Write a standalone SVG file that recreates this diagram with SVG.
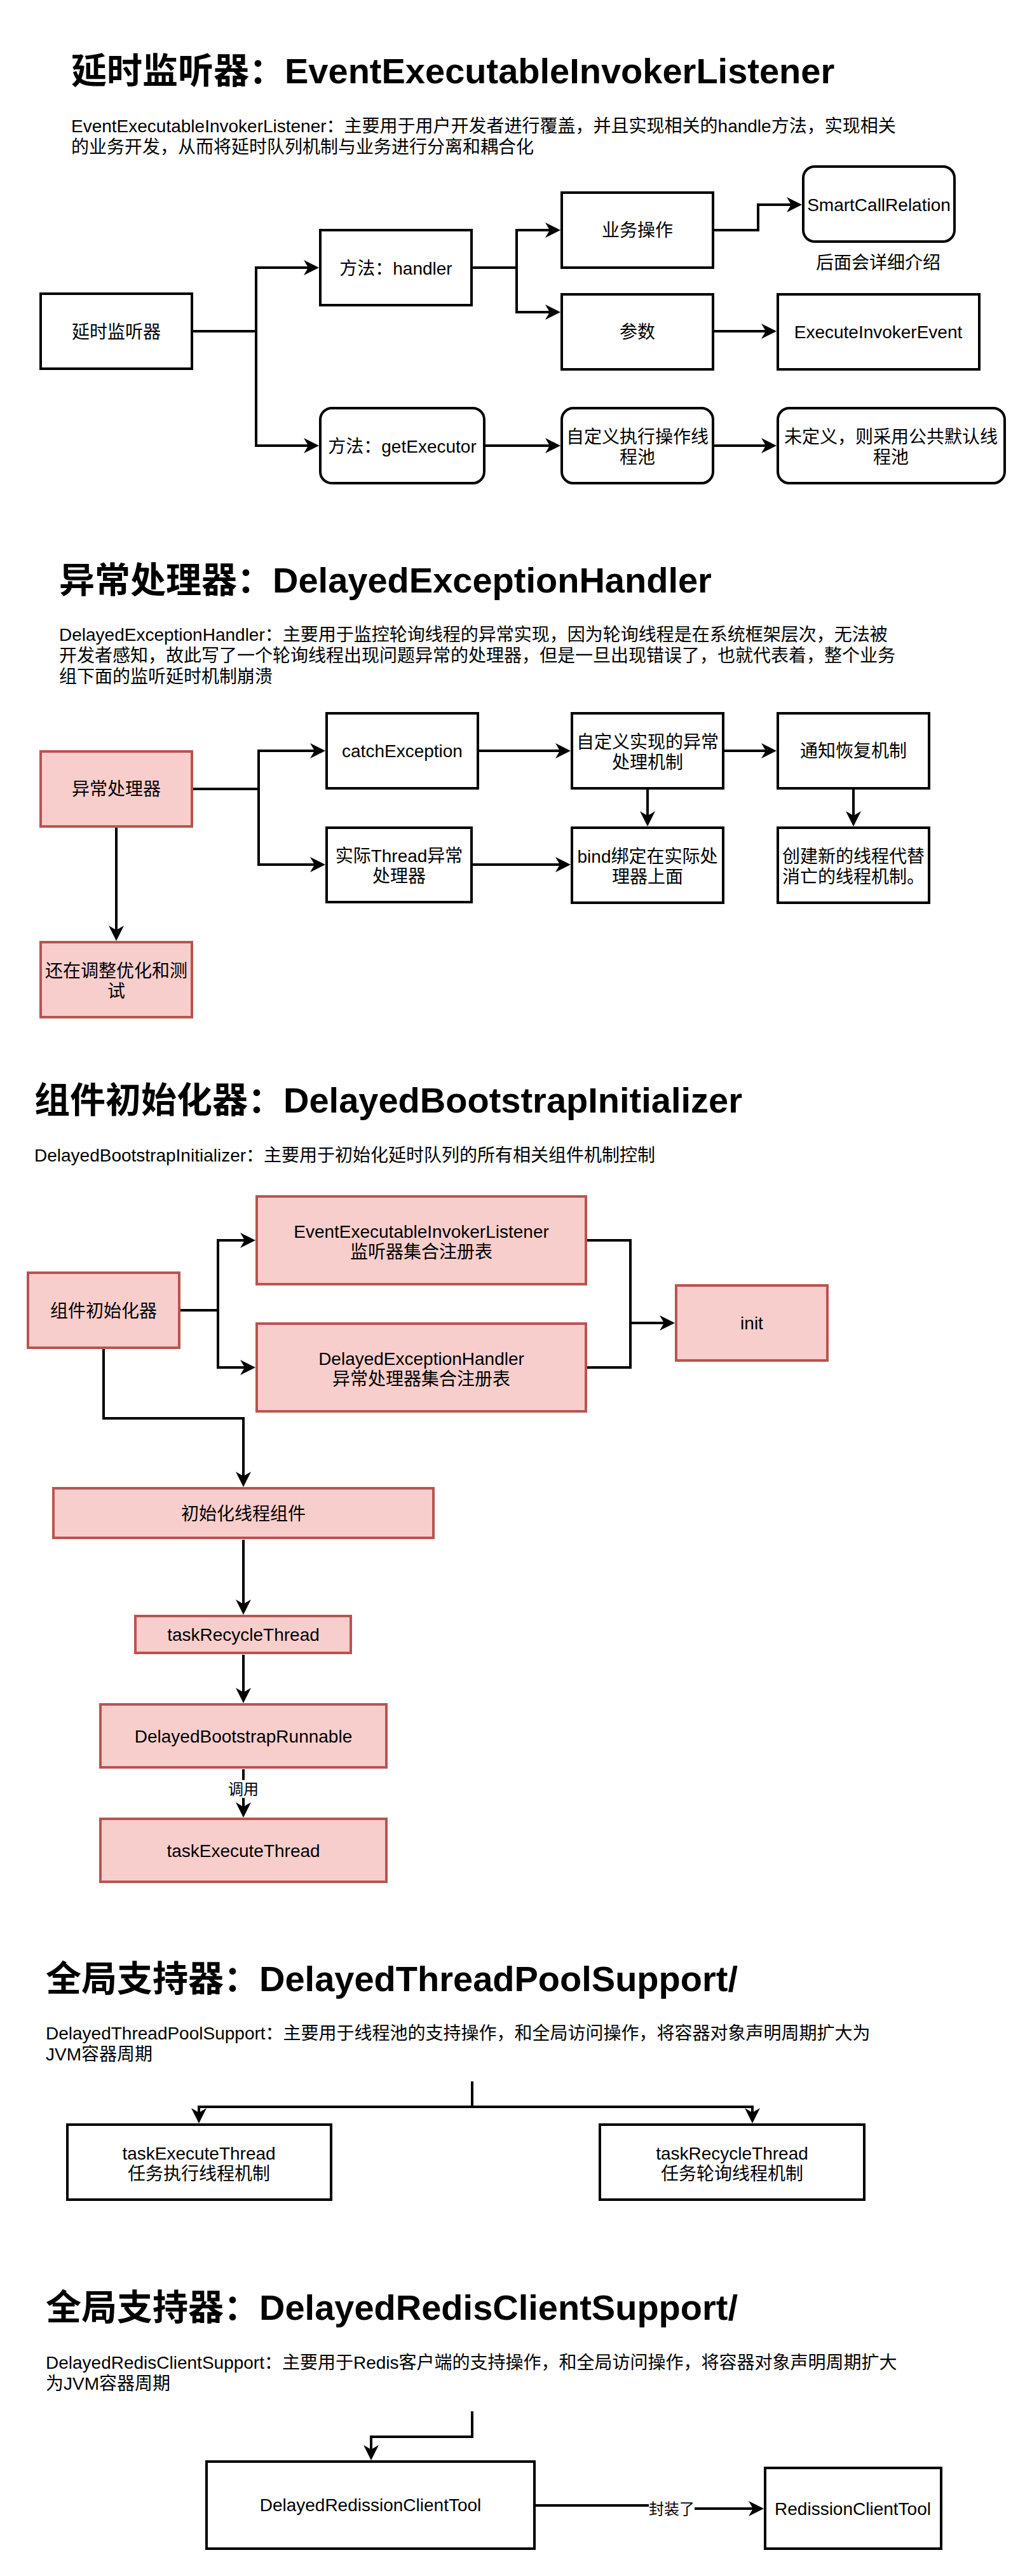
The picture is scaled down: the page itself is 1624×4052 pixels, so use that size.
<svg xmlns="http://www.w3.org/2000/svg" width="1624" height="4052" viewBox="0 0 1624 4052">
<style>
.n{fill:#fff;stroke:#000;stroke-width:4}
.r{fill:#f8cecc;stroke:#b85450;stroke-width:4}
.e{fill:none;stroke:#000;stroke-width:4}
text{font-family:"Liberation Sans","Noto Sans CJK SC",sans-serif;fill:#000}
.t{font-size:28px;text-anchor:middle}
.h{font-size:56px;font-weight:bold}
.d{font-size:28px}
.l{font-size:24px;text-anchor:middle}
</style>
<defs>
<marker id="a" viewBox="0 0 24 24" refX="16" refY="12" markerWidth="24" markerHeight="24" markerUnits="userSpaceOnUse" orient="auto"><path d="M0,0 L24,12 L0,24 L7,12 Z" fill="#000"/></marker>
</defs>
<rect width="1624" height="4052" fill="#fff"/>

<!-- Section 1 -->
<text class="h" x="112" y="131">延时监听器：EventExecutableInvokerListener</text>
<text class="d" x="112" y="208">EventExecutableInvokerListener：主要用于用户开发者进行覆盖，并且实现相关的handle方法，实现相关</text>
<text class="d" x="112" y="241">的业务开发，从而将延时队列机制与业务进行分离和耦合化</text>

<g id="connectors">
<path class="e" marker-end="url(#a)" d="M304,521 H403 V421 H494"/>
<path class="e" marker-end="url(#a)" d="M304,521 H403 V701 H494"/>
<path class="e" marker-end="url(#a)" d="M744,421 H813 V362 H874"/>
<path class="e" marker-end="url(#a)" d="M744,421 H813 V491 H874"/>
<path class="e" marker-end="url(#a)" d="M1124,362 H1193 V322 H1254"/>
<path class="e" marker-end="url(#a)" d="M1124,521 H1214"/>
<path class="e" marker-end="url(#a)" d="M764,701 H874"/>
<path class="e" marker-end="url(#a)" d="M1124,701 H1214"/>

<path class="e" marker-end="url(#a)" d="M304,1241 H407 V1181 H504"/>
<path class="e" marker-end="url(#a)" d="M304,1241 H407 V1360 H504"/>
<path class="e" marker-end="url(#a)" d="M754,1181 H890"/>
<path class="e" marker-end="url(#a)" d="M1140,1181 H1214"/>
<path class="e" marker-end="url(#a)" d="M1019,1242 V1292"/>
<path class="e" marker-end="url(#a)" d="M1343,1242 V1292"/>
<path class="e" marker-end="url(#a)" d="M744,1360 H890"/>
<path class="e" marker-end="url(#a)" d="M183,1302 V1472"/>

<path class="e" marker-end="url(#a)" d="M284,2061 H343 V1951 H394"/>
<path class="e" marker-end="url(#a)" d="M284,2061 H343 V2151 H394"/>
<path class="e" marker-end="url(#a)" d="M923,1951 H992 V2081 H1054"/>
<path class="e" d="M923,2151 H992 V2081"/>
<path class="e" marker-end="url(#a)" d="M163,2122 V2231 H383 V2331"/>
<path class="e" marker-end="url(#a)" d="M383,2422 V2532"/>
<path class="e" marker-end="url(#a)" d="M383,2603 V2671"/>
<path class="e" marker-end="url(#a)" d="M383,2783 V2851"/>
<rect x="359" y="2800" width="48" height="28" fill="#fff"/>
<text class="l" x="383" y="2823">调用</text>

<path class="e" marker-end="url(#a)" d="M743,3274 V3314 H313 V3332"/>
<path class="e" marker-end="url(#a)" d="M743,3314 H1184 V3332"/>

<path class="e" marker-end="url(#a)" d="M743,3793 V3833 H584 V3862"/>
<path class="e" marker-end="url(#a)" d="M843,3941 H1057 V3946 H1194"/>
<rect x="1021" y="3932" width="72" height="30" fill="#fff"/>
<text class="l" x="1057" y="3955">封装了</text>
</g>

<g id="n1"><rect class="n" x="64" y="462" width="238" height="118"/><text class="t" x="183" y="532">延时监听器</text></g>
<g id="n2"><rect class="n" x="504" y="362" width="238" height="118"/><text class="t" x="623" y="432">方法：handler</text></g>
<g id="n3"><rect class="n" x="884" y="303" width="238" height="118"/><text class="t" x="1003" y="372">业务操作</text></g>
<g id="n4"><rect class="n" x="1264" y="262" width="238" height="118" rx="18"/><text class="t" x="1383" y="332">SmartCallRelation</text></g>
<g id="n4l"><text class="t" x="1382" y="423">后面会详细介绍</text></g>
<g id="n5"><rect class="n" x="884" y="463" width="238" height="118"/><text class="t" x="1003" y="532">参数</text></g>
<g id="n6"><rect class="n" x="1224" y="463" width="317" height="118"/><text class="t" x="1382" y="532">ExecuteInvokerEvent</text></g>
<g id="n7"><rect class="n" x="504" y="642" width="258" height="118" rx="18"/><text class="t" x="633" y="712">方法：getExecutor</text></g>
<g id="n8"><rect class="n" x="884" y="642" width="238" height="118" rx="18"/><text class="t" x="1003" y="697">自定义执行操作线</text><text class="t" x="1003" y="729">程池</text></g>
<g id="n9"><rect class="n" x="1224" y="642" width="357" height="118" rx="18"/><text class="t" x="1402" y="697">未定义，则采用公共默认线</text><text class="t" x="1402" y="729">程池</text></g>

<!-- Section 2 -->
<text class="h" x="93" y="932">异常处理器：DelayedExceptionHandler</text>
<text class="d" x="93" y="1008">DelayedExceptionHandler：主要用于监控轮询线程的异常实现，因为轮询线程是在系统框架层次，无法被</text>
<text class="d" x="93" y="1041">开发者感知，故此写了一个轮询线程出现问题异常的处理器，但是一旦出现错误了，也就代表着，整个业务</text>
<text class="d" x="93" y="1074">组下面的监听延时机制崩溃</text>

<g id="m1"><rect class="r" x="64" y="1182" width="238" height="118"/><text class="t" x="183" y="1251">异常处理器</text></g>
<g id="m2"><rect class="n" x="514" y="1122" width="238" height="118"/><text class="t" x="633" y="1191">catchException</text></g>
<g id="m3"><rect class="n" x="900" y="1122" width="238" height="118"/><text class="t" x="1019" y="1177">自定义实现的异常</text><text class="t" x="1019" y="1209">处理机制</text></g>
<g id="m4"><rect class="n" x="1224" y="1122" width="238" height="118"/><text class="t" x="1343" y="1191">通知恢复机制</text></g>
<g id="m5"><rect class="n" x="514" y="1302" width="228" height="117"/><text class="t" x="628" y="1356">实际Thread异常</text><text class="t" x="628" y="1388">处理器</text></g>
<g id="m6"><rect class="n" x="900" y="1302" width="238" height="118"/><text class="t" x="1019" y="1357">bind绑定在实际处</text><text class="t" x="1019" y="1389">理器上面</text></g>
<g id="m7"><rect class="n" x="1224" y="1302" width="238" height="118"/><text class="t" x="1343" y="1357">创建新的线程代替</text><text class="t" x="1343" y="1389">消亡的线程机制。</text></g>
<g id="m8"><rect class="r" x="64" y="1482" width="238" height="118"/><text class="t" x="183" y="1537">还在调整优化和测</text><text class="t" x="183" y="1569">试</text></g>

<!-- Section 3 -->
<text class="h" x="54" y="1750">组件初始化器：DelayedBootstrapInitializer</text>
<text class="d" x="54" y="1827">DelayedBootstrapInitializer：主要用于初始化延时队列的所有相关组件机制控制</text>

<g id="b1"><rect class="r" x="44" y="2002" width="238" height="118"/><text class="t" x="163" y="2072">组件初始化器</text></g>
<g id="b2"><rect class="r" x="404" y="1882" width="518" height="138"/><text class="t" x="663" y="1947">EventExecutableInvokerListener</text><text class="t" x="663" y="1979">监听器集合注册表</text></g>
<g id="b3"><rect class="r" x="404" y="2082" width="518" height="138"/><text class="t" x="663" y="2147">DelayedExceptionHandler</text><text class="t" x="663" y="2179">异常处理器集合注册表</text></g>
<g id="b4"><rect class="r" x="1064" y="2022" width="238" height="118"/><text class="t" x="1183" y="2091">init</text></g>
<g id="b5"><rect class="r" x="84" y="2341" width="598" height="78"/><text class="t" x="383" y="2391">初始化线程组件</text></g>
<g id="b6"><rect class="r" x="213" y="2542" width="339" height="58"/><text class="t" x="383" y="2581">taskRecycleThread</text></g>
<g id="b7"><rect class="r" x="158" y="2681" width="450" height="99"/><text class="t" x="383" y="2741">DelayedBootstrapRunnable</text></g>
<g id="b8"><rect class="r" x="158" y="2861" width="450" height="99"/><text class="t" x="383" y="2921">taskExecuteThread</text></g>

<!-- Section 4 -->
<text class="h" x="72" y="3132">全局支持器：DelayedThreadPoolSupport/</text>
<text class="d" x="72" y="3208">DelayedThreadPoolSupport：主要用于线程池的支持操作，和全局访问操作，将容器对象声明周期扩大为</text>
<text class="d" x="72" y="3241">JVM容器周期</text>

<g id="p1"><rect class="n" x="106" y="3342" width="415" height="118"/><text class="t" x="313" y="3397">taskExecuteThread</text><text class="t" x="313" y="3429">任务执行线程机制</text></g>
<g id="p2"><rect class="n" x="944" y="3342" width="416" height="118"/><text class="t" x="1152" y="3397">taskRecycleThread</text><text class="t" x="1152" y="3429">任务轮询线程机制</text></g>

<!-- Section 5 -->
<text class="h" x="72" y="3649">全局支持器：DelayedRedisClientSupport/</text>
<text class="d" x="72" y="3726">DelayedRedisClientSupport：主要用于Redis客户端的支持操作，和全局访问操作，将容器对象声明周期扩大</text>
<text class="d" x="72" y="3759">为JVM容器周期</text>

<g id="r1"><rect class="n" x="325" y="3872" width="516" height="137"/><text class="t" x="583" y="3950">DelayedRedissionClientTool</text></g>
<g id="r2"><rect class="n" x="1204" y="3882" width="277" height="127"/><text class="t" x="1342" y="3956">RedissionClientTool</text></g>
</svg>
